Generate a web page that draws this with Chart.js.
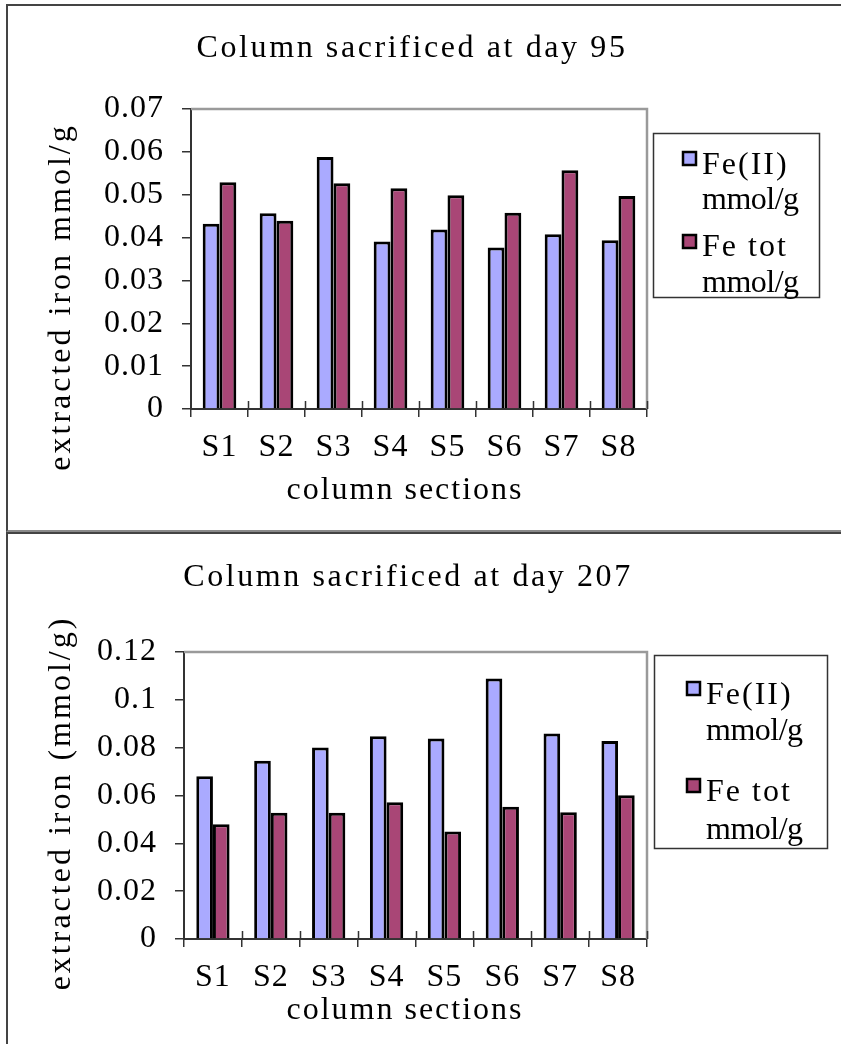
<!DOCTYPE html>
<html>
<head>
<meta charset="utf-8">
<script src="https://cdn.jsdelivr.net/npm/chart.js@4/dist/chart.umd.min.js"></script>
<style>
  html, body { margin: 0; padding: 0; background: #fff; width: 841px; height: 1044px; overflow: hidden; }
  .panel { position: absolute; left: 6px; width: 900px; border: 2px solid #444; border-right: none; background: #fff; }
  #p1 { top: 4px; height: 524px; border-bottom-color: #8a8a8a; }
  #p2 { top: 532px; height: 520px; border-bottom: none; }
  canvas { display: block; }
</style>
</head>
<body>
<div class="panel" id="p1"><canvas id="c1" width="833" height="524"></canvas></div>
<div class="panel" id="p2"><canvas id="c2" width="833" height="510"></canvas></div>
<script>
// Column sections along the column
const sections = ['S1', 'S2', 'S3', 'S4', 'S5', 'S6', 'S7', 'S8'];

// Day 95 extraction (mmol/g)
const fe2Day95   = [0.0432, 0.0457, 0.0588, 0.0391, 0.0419, 0.0377, 0.0408, 0.0394];
const feTotDay95 = [0.0529, 0.0439, 0.0527, 0.0515, 0.0499, 0.0458, 0.0557, 0.0497];

// Day 207 extraction (mmol/g)
const fe2Day207   = [0.0680, 0.0745, 0.0801, 0.0848, 0.0838, 0.1089, 0.0859, 0.0828];
const feTotDay207 = [0.0480, 0.0528, 0.0528, 0.0572, 0.0450, 0.0553, 0.0530, 0.0601];

// Axis tick labels
const ticks95  = ['0', '0.01', '0.02', '0.03', '0.04', '0.05', '0.06', '0.07'];
const ticks207 = ['0', '0.02', '0.04', '0.06', '0.08', '0.1', '0.12'];

// Legend entries, two lines each
const legendFe2   = ['Fe(II)', 'mmol/g'];
const legendFeTot = ['Fe tot', 'mmol/g'];

const FE2_COLOR = '#aaaaff';
const FETOT_COLOR = '#a94676';
const FONT = 'Liberation Serif';
const FS = 32;

Chart.defaults.font.family = FONT;
Chart.defaults.font.size = FS;
Chart.defaults.color = '#000';

// Titles, axis titles, plot frame and legend box drawn around the chart area
const panelDecor = {
  id: 'panelDecor',
  beforeLayout(chart) { chart.ctx.letterSpacing = '1px'; },
  beforeDraw(chart) { chart.ctx.letterSpacing = '1px'; },
  beforeDatasetsDraw(chart) {
    const { ctx, chartArea: a, scales: { x } } = chart;
    ctx.save();
    ctx.strokeStyle = '#9a9a9a';
    ctx.lineWidth = 2.5;
    ctx.beginPath();
    ctx.moveTo(a.left, a.top);
    ctx.lineTo(a.right, a.top);
    ctx.lineTo(a.right, a.bottom);
    ctx.stroke();
    // short upward halves of the category separators
    ctx.strokeStyle = '#333';
    ctx.lineWidth = 1.5;
    const n = x.ticks.length;
    const w = (a.right - a.left) / n;
    ctx.beginPath();
    for (let i = 1; i <= n; i++) {
      const px = Math.round(a.left + i * w) + 0.5;
      ctx.moveTo(px, a.bottom);
      ctx.lineTo(px, a.bottom - 8);
    }
    ctx.stroke();
    ctx.restore();
  },
  afterDraw(chart, args, o) {
    const { ctx } = chart;
    ctx.save();
    ctx.fillStyle = '#000';
    ctx.textBaseline = 'middle';
    ctx.textAlign = 'center';
    ctx.font = FS + 'px "' + FONT + '"';

    ctx.letterSpacing = '2.6px';
    ctx.fillText(o.title, o.titleX, o.titleY);

    ctx.letterSpacing = '2px';
    ctx.fillText(o.xTitle, o.xTitleX, o.xTitleY);

    ctx.save();
    ctx.letterSpacing = '3px';
    ctx.translate(o.yTitleX, o.yTitleY);
    ctx.rotate(-Math.PI / 2);
    ctx.fillText(o.yTitle, 0, 0);
    ctx.restore();

    // legend
    const L = o.legend;
    ctx.strokeStyle = '#333';
    ctx.lineWidth = 1.5;
    ctx.strokeRect(L.x + 0.5, L.y + 0.5, L.w, L.h);
    ctx.textAlign = 'left';
    chart.data.datasets.forEach((ds, i) => {
      const sy = L.swatchY[i];
      ctx.fillStyle = ds.backgroundColor;
      ctx.fillRect(L.swatchX, sy, 13, 13);
      ctx.strokeStyle = '#000';
      ctx.lineWidth = 2.5;
      ctx.strokeRect(L.swatchX, sy, 13, 13);
      ctx.fillStyle = '#000';
      ds.legendLines.forEach((t, j) => {
        ctx.letterSpacing = j === 0 ? '2px' : '-0.5px';
        ctx.fillText(t, L.textX, L.lineY[i][j]);
      });
    });
    ctx.restore();
  }
};

function makeChart(id, fe2, feTot, tickLabels, maxY, step, catPct, decor, yWidth, xHeight, padTop) {
  return new Chart(document.getElementById(id), {
    type: 'bar',
    data: {
      labels: sections,
      datasets: [
        { label: legendFe2.join(' '), legendLines: legendFe2, data: fe2,
          backgroundColor: FE2_COLOR, borderColor: '#000', borderWidth: 3,
          barPercentage: 1.0, categoryPercentage: catPct },
        { label: legendFeTot.join(' '), legendLines: legendFeTot, data: feTot,
          backgroundColor: FETOT_COLOR, borderColor: '#000', borderWidth: 3,
          barPercentage: 1.0, categoryPercentage: catPct }
      ]
    },
    options: {
      responsive: false,
      animation: false,
      events: [],
      layout: { padding: { top: padTop, right: 194, left: 0, bottom: 0 } },
      plugins: {
        legend: { display: false },
        title: { display: false },
        tooltip: { enabled: false },
        panelDecor: decor
      },
      scales: {
        x: {
          grid: { offset: true, drawOnChartArea: false, tickLength: 8, color: '#333', lineWidth: 1.5 },
          border: { color: '#333', width: 2 },
          ticks: { padding: 11, font: { size: FS } },
          afterFit(s) { s.height = xHeight; }
        },
        y: {
          min: 0, max: maxY,
          grid: { drawOnChartArea: false, tickLength: 9, color: '#333', lineWidth: 1.5 },
          border: { color: '#333', width: 2 },
          ticks: { stepSize: step, padding: 18, font: { size: FS },
                   callback: (v, i) => tickLabels[i] ?? '' },
          afterFit(s) { s.width = yWidth; }
        }
      }
    },
    plugins: [panelDecor]
  });
}

makeChart('c1', fe2Day95, feTotDay95, ticks95, 0.07, 0.01, 0.59, {
  title: 'Column sacrificed at day 95', titleX: 404, titleY: 43,
  xTitle: 'column sections', xTitleX: 397, xTitleY: 485,
  yTitle: 'extracted iron mmol/g', yTitleX: 54, yTitleY: 291,
  legend: { x: 645, y: 127, w: 166, h: 164, swatchX: 675, swatchY: [146, 229],
            textX: 694, lineY: [[160, 195], [242, 278]] }
}, 183, 121, 103);

makeChart('c2', fe2Day207, feTotDay207, ticks207, 0.12, 0.02, 0.575, {
  title: 'Column sacrificed at day 207', titleX: 400, titleY: 44,
  xTitle: 'column sections', xTitleX: 397, xTitleY: 477,
  yTitle: 'extracted iron (mmol/g)', yTitleX: 54, yTitleY: 269,
  legend: { x: 646, y: 121, w: 173, h: 193, swatchX: 679, swatchY: [148, 245],
            textX: 698, lineY: [[162, 198], [259, 297]] }
}, 176, 105, 118);
</script>
</body>
</html>
